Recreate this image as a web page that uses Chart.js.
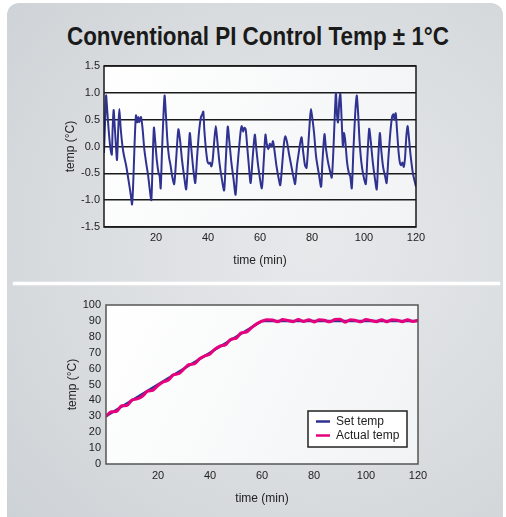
<!DOCTYPE html>
<html>
<head>
<meta charset="utf-8">
<script src="https://cdn.jsdelivr.net/npm/chart.js@4.4.0/dist/chart.umd.min.js"></script>
<style>
body{margin:0;background:#fff;width:506px;height:517px;overflow:hidden;position:relative;font-family:"Liberation Sans",Arial,sans-serif;}
#panel{position:absolute;left:7px;top:3px;width:496px;height:540px;border-radius:12px;
  background:radial-gradient(ellipse at 62% 45%,#e7e9eb 0%,#dcdfe2 45%,#ccd1d5 100%);}
#line{position:absolute;left:13px;top:282px;width:487px;height:3px;background:#fff;box-shadow:0 0 2px #fff;}
#title{position:absolute;left:0;top:22px;width:506px;height:32px;white-space:nowrap;}
#title span{position:absolute;left:258px;top:0;font-weight:bold;font-size:25px;color:#1a1a1a;transform-origin:0 0;}
#c1{position:absolute;left:0;top:50px;}
#c2{position:absolute;left:0;top:285px;}
</style>
</head>
<body>
<div id="panel"></div>
<div id="line"></div>
<div id="title"><span id="ttl">Conventional PI Control Temp ± 1°C</span></div>
<canvas id="c1" width="506" height="220"></canvas>
<canvas id="c2" width="506" height="232"></canvas>
<script>
function $(value){
    return document.getElementById(value);
}

// top chart: deviation from set temp
var topTime = [0,0.3,0.8,1.2,1.8,2.5,3.0,3.3,3.7,4.1,4.6,5.0,5.5,5.9,6.4,7.0,7.6,8.5,9.5,10.3,10.8,11.3,11.8,12.3,12.8,13.2,13.6,14.2,14.8,15.5,16.2,17.0,17.6,18.2,18.7,19.2,19.7,20.3,21.0,21.4,21.8,22.3,22.8,23.3,23.8,24.4,25.0,25.6,26.2,27.0,27.8,28.6,29.3,30.0,30.8,31.6,32.3,33.0,33.6,34.4,35.1,35.8,36.6,37.3,37.8,38.2,38.6,39.2,39.8,40.3,40.8,41.3,41.8,42.4,43.0,43.6,44.4,45.3,46.2,46.8,47.6,48.2,49.0,49.8,50.6,51.3,52.0,52.6,53.0,53.5,54.0,54.5,55.0,55.7,56.4,57.2,58.0,58.6,59.4,60.7,61.4,62.1,62.6,63.2,63.8,64.4,65.0,65.5,66.3,67.2,67.8,68.6,69.2,69.7,70.4,71.2,72.2,73.0,73.5,74.2,74.8,75.4,76.0,76.6,77.3,77.9,78.6,79.2,79.6,80.2,80.8,81.6,82.6,83.5,84.0,84.8,85.4,86.2,86.9,87.6,88.2,88.7,89.2,89.6,90.0,90.5,90.9,91.4,91.9,92.3,92.8,93.5,94.2,94.7,95.3,95.9,96.6,97.2,97.7,98.3,99.0,99.8,100.7,101.3,102.0,102.6,103.4,104.2,104.9,105.5,106.1,106.7,107.4,108.1,108.7,109.4,110.2,110.8,111.3,111.8,112.2,112.7,113.3,113.8,114.3,114.8,115.3,115.8,116.3,116.8,117.3,118.0,118.8,119.5,120.0];
var topTemp = [-0.12,0.3,0.95,0.7,0.3,-0.05,-0.15,0.3,0.68,0.4,0.0,-0.25,0.35,0.7,0.35,0.05,-0.15,-0.35,-0.65,-0.9,-1.08,-0.6,0.1,0.58,0.45,0.55,0.45,0.55,0.35,-0.05,-0.3,-0.55,-0.8,-1.0,-0.3,0.35,0.1,-0.25,-0.5,-0.55,-0.78,-0.1,0.5,0.95,0.6,0.1,-0.2,-0.35,-0.55,-0.7,-0.2,0.32,0.1,-0.25,-0.55,-0.8,-0.3,0.25,-0.05,-0.45,-0.68,-0.2,0.3,0.55,0.6,0.65,0.3,-0.05,-0.28,-0.32,-0.3,-0.37,-0.25,0.1,0.38,0.1,-0.3,-0.6,-0.82,-0.3,0.37,0.1,-0.3,-0.6,-0.9,-0.4,0.0,0.3,0.38,0.28,0.35,0.32,0.05,-0.35,-0.68,-0.2,0.22,-0.05,-0.4,-0.78,-0.3,0.22,0.05,-0.05,0.05,0.0,0.1,-0.05,-0.35,-0.6,-0.72,-0.3,0.05,0.19,0.08,-0.15,-0.4,-0.6,-0.7,-0.35,-0.15,0.05,0.17,-0.1,-0.35,-0.4,0.05,0.5,0.7,0.5,0.25,-0.2,-0.5,-0.75,-0.3,0.23,-0.05,-0.3,-0.45,-0.58,-0.1,0.5,1.0,0.6,0.45,0.85,0.98,0.5,0.0,0.25,0.1,-0.3,-0.5,-0.55,-0.78,-0.1,0.6,0.95,0.65,0.1,-0.3,-0.55,-0.7,-0.2,0.33,0.1,-0.3,-0.6,-0.8,-0.2,0.25,-0.1,-0.4,-0.55,-0.68,-0.2,0.3,0.55,0.6,0.5,0.62,0.3,-0.1,-0.3,-0.35,-0.3,-0.38,-0.2,0.2,0.38,0.15,-0.2,-0.5,-0.65,-0.75];
var topTicks = [-1.5,-1.0,-0.5,0.0,0.5,1.0,1.5];

// bottom chart: set temp vs actual
var setTime = [0,60,120];
var setTemp = [30,90,90];
var actTime = [0,2,4,6,8,10,12,14,16,18,20,22,24,26,28,30,32,34,36,38,40,42,44,46,48,50,52,54,56,58,60,62,64,66,68,70,72,74,76,78,80,82,84,86,88,90,92,94,96,98,100,102,104,106,108,110,112,114,116,118,120];
var actTemp = [30.0,32.8,33.0,36.6,36.8,40.2,41.0,42.6,45.8,46.4,49.4,51.6,52.8,56.2,56.8,59.8,62.6,63.0,66.2,68.0,69.2,72.4,74.2,75.0,78.4,79.0,82.4,83.0,85.8,88.2,89.8,90.8,90.6,89.4,90.9,90.3,89.5,90.9,89.6,90.8,89.3,90.7,90.4,89.4,90.9,91.1,89.2,90.8,90.3,89.4,90.9,90.2,89.5,90.8,89.4,90.7,90.5,89.5,90.8,89.6,90.4];
var bottomTicks = [0,10,20,30,40,50,60,70,80,90,100];
var timeTicks = [20,40,60,80,100,120];
var seriesNames = ["Set temp","Actual temp"];

function pts(xs,ys){
    var out = [];
    for(var i=0;i<xs.length;i++) out.push({x:xs[i],y:ys[i]});
    return out;
}
function fixTicks(list){
    return function(s){ s.ticks = list.map(function(v){return {value:v};}); };
}

// stretch title like the condensed font in the picture
var t = $("ttl");
var sc = 382 / t.offsetWidth;
t.style.transform = "scaleX(" + sc + ") translateX(-50%)";

var plotBg = {
    id:"plotBg",
    beforeDraw:function(chart){
        var a = chart.chartArea, c = chart.ctx;
        var g = c.createLinearGradient(a.left,a.top,a.right,a.bottom);
        g.addColorStop(0,"#ffffff");
        g.addColorStop(1,"#f1f3f4");
        c.save();
        c.fillStyle = g;
        c.fillRect(a.left,a.top,a.right-a.left,a.bottom-a.top);
        c.restore();
    },
    afterDraw:function(chart){
        var a = chart.chartArea, c = chart.ctx;
        c.save();
        c.strokeStyle = chart.options.frameColor || "#222";
        c.lineWidth = 1.5;
        c.strokeRect(a.left,a.top,a.right-a.left,a.bottom-a.top);
        c.restore();
    }
};

var boxLegend = {
    id:"boxLegend",
    afterDraw:function(chart){
        if(!chart.options.boxLegend) return;
        var a = chart.chartArea, c = chart.ctx;
        var w = 99, h = 36;
        var x = a.right - 11 - w, y = a.bottom - 17 - h;
        c.save();
        c.fillStyle = "#fff";
        c.fillRect(x,y,w,h);
        c.strokeStyle = "#222";
        c.lineWidth = 1.5;
        c.strokeRect(x,y,w,h);
        c.font = "12px 'Liberation Sans', Arial, sans-serif";
        c.textBaseline = "middle";
        var ds = chart.data.datasets;
        for(var i=0;i<ds.length;i++){
            var ly = y + 10.5 + i*14;
            c.strokeStyle = ds[i].borderColor;
            c.lineWidth = 2.5;
            c.beginPath();
            c.moveTo(x+8,ly);
            c.lineTo(x+22,ly);
            c.stroke();
            c.fillStyle = "#222";
            c.fillText(ds[i].label,x+28,ly);
        }
        c.restore();
    }
};

var tickFont = {family:"'Liberation Sans', Arial, sans-serif", size:11};
var titleFont = {family:"'Liberation Sans', Arial, sans-serif", size:12};

new Chart($("c1"), {
    type:"line",
    data:{
        datasets:[{
            label:"deviation",
            data:pts(topTime,topTemp),
            borderColor:"#2f3290",
            borderWidth:2,
            pointRadius:0,
            tension:0.25
        }]
    },
    options:{
        responsive:false,
        animation:false,
        frameColor:"#1a1a1a",
        layout:{padding:{left:58,right:90,top:16,bottom:0}},
        plugins:{legend:{display:false},tooltip:{enabled:false}},
        scales:{
            x:{
                type:"linear", min:0, max:120,
                afterBuildTicks:fixTicks(timeTicks),
                afterFit:function(s){ s.height = 43; },
                grid:{display:false,drawTicks:false},
                border:{display:false},
                ticks:{color:"#222",font:tickFont,padding:4,maxRotation:0},
                title:{display:true,text:"time (min)",color:"#222",font:titleFont,padding:{top:0,bottom:2}}
            },
            y:{
                min:-1.5, max:1.5,
                afterBuildTicks:fixTicks(topTicks),
                afterFit:function(s){ s.width = 46; },
                grid:{color:"#1a1a1a",lineWidth:1.5,drawTicks:false},
                border:{display:false},
                ticks:{color:"#222",font:tickFont,padding:4,callback:function(v){return v.toFixed(1);}},
                title:{display:true,text:"temp (°C)",color:"#222",font:titleFont,padding:{top:5,bottom:0}}
            }
        }
    },
    plugins:[plotBg]
});

new Chart($("c2"), {
    type:"line",
    data:{
        datasets:[{
            label:seriesNames[0],
            data:pts(setTime,setTemp),
            borderColor:"#2f3290",
            borderWidth:2.5,
            pointRadius:0,
            tension:0,
            order:1
        },{
            label:seriesNames[1],
            data:pts(actTime,actTemp),
            borderColor:"#e6007e",
            borderWidth:3,
            pointRadius:0,
            cubicInterpolationMode:"monotone",
            order:0
        }]
    },
    options:{
        responsive:false,
        animation:false,
        frameColor:"#555",
        boxLegend:true,
        layout:{padding:{left:60,right:88,top:20,bottom:0}},
        plugins:{legend:{display:false},tooltip:{enabled:false}},
        scales:{
            x:{
                type:"linear", min:0, max:120,
                afterBuildTicks:fixTicks(timeTicks),
                afterFit:function(s){ s.height = 53; },
                grid:{display:false,drawTicks:false},
                border:{display:false},
                ticks:{color:"#222",font:tickFont,padding:5,maxRotation:0},
                title:{display:true,text:"time (min)",color:"#222",font:titleFont,padding:{top:0,bottom:11}}
            },
            y:{
                min:0, max:100,
                afterBuildTicks:fixTicks(bottomTicks),
                afterFit:function(s){ s.width = 46; },
                grid:{display:false,drawTicks:false},
                border:{display:false},
                ticks:{color:"#222",font:tickFont,padding:5,autoSkip:false},
                title:{display:true,text:"temp (°C)",color:"#222",font:titleFont,padding:{top:5,bottom:0}}
            }
        }
    },
    plugins:[plotBg, boxLegend]
});
</script>
</body>
</html>
